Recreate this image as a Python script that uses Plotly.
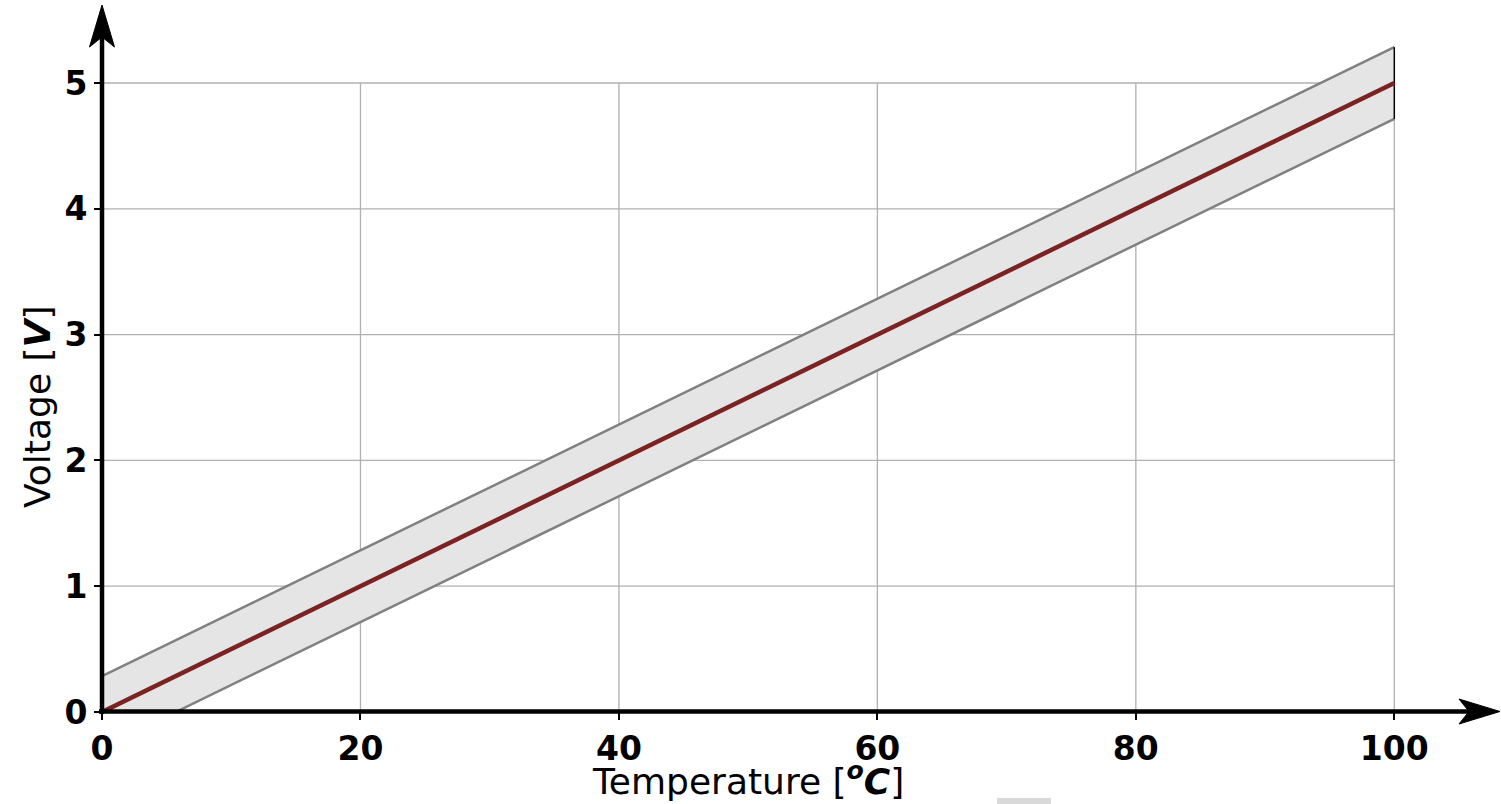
import plotly.graph_objects as go

# ---- data ----
temp = [0, 100]
volt = [0, 5]
band_upper_x = [0, 100]
band_upper_y = [0.285, 5.285]
band_lower_x = [5.7, 100]
band_lower_y = [0, 4.715]
x_ticks = [0, 20, 40, 60, 80, 100]
y_ticks = [0, 1, 2, 3, 4, 5]

# ---- layout geometry ----
W, H = 1501, 804
ML, MB, MR, MT = 102, 92, 43, 20
PW = W - ML - MR
PH = H - MB - MT
PPX = 12.923   # px per degree
PPY = 125.8    # px per volt
X0PX, Y0PX = ML, H - MB
xmax = PW / PPX
ymax = PH / PPY


def px2paper(px, py):
    return (px - X0PX) / PW, (Y0PX - py) / PH


def path(points):
    pts = [px2paper(*p) for p in points]
    s = "M %f,%f " % pts[0]
    for p in pts[1:]:
        s += "L %f,%f " % p
    return s + "Z"


fig = go.Figure()

# band fill
poly_x = [band_upper_x[0], band_upper_x[1], band_lower_x[1], band_lower_x[0], band_upper_x[0]]
poly_y = [band_upper_y[0], band_upper_y[1], band_lower_y[1], band_lower_y[0], band_lower_y[0]]
fig.add_trace(go.Scatter(x=poly_x, y=poly_y, fill="toself", fillcolor="#e5e5e5",
                         mode="none", hoverinfo="skip", showlegend=False))
# band edges
fig.add_trace(go.Scatter(x=band_upper_x, y=band_upper_y, mode="lines",
                         line=dict(color="#808080", width=2.5), showlegend=False))
fig.add_trace(go.Scatter(x=band_lower_x, y=band_lower_y, mode="lines",
                         line=dict(color="#808080", width=2.5), showlegend=False))
fig.add_trace(go.Scatter(x=[band_upper_x[1], band_lower_x[1]], y=[band_upper_y[1], band_lower_y[1]],
                         mode="lines", line=dict(color="black", width=1.5), showlegend=False))
fig.add_trace(go.Scatter(x=[band_upper_x[0], band_upper_x[0]], y=[band_lower_y[0], band_upper_y[0]],
                         mode="lines", line=dict(color="black", width=1.5), showlegend=False))
# main line
fig.add_trace(go.Scatter(x=temp, y=volt, mode="lines",
                         line=dict(color="#7b2222", width=4.5), showlegend=False))

shapes = []
# grid lines (limited to data region)
for xv in x_ticks[1:]:
    shapes.append(dict(type="line", xref="x", yref="y", x0=xv, x1=xv, y0=y_ticks[0], y1=y_ticks[-1],
                       line=dict(color="#b0b0b0", width=1.3), layer="below"))
for yv in y_ticks[1:]:
    shapes.append(dict(type="line", xref="x", yref="y", x0=x_ticks[0], x1=x_ticks[-1], y0=yv, y1=yv,
                       line=dict(color="#b0b0b0", width=1.3), layer="below"))

# axes with arrows
ax0 = px2paper(99, Y0PX - 0.5)
ax1 = px2paper(1475, Y0PX - 0.5)
shapes.append(dict(type="line", xref="paper", yref="paper", x0=ax0[0], y0=ax0[1], x1=ax1[0], y1=ax1[1],
                   line=dict(color="black", width=4.5), layer="above"))
shapes.append(dict(type="path", xref="paper", yref="paper",
                   path=path([(1500, 711.5), (1459, 699), (1469, 711.5), (1459, 724)]),
                   fillcolor="black", line=dict(color="black", width=1), layer="above"))
ay0 = px2paper(X0PX, 714)
ay1 = px2paper(X0PX, 30)
shapes.append(dict(type="line", xref="paper", yref="paper", x0=ay0[0], y0=ay0[1], x1=ay1[0], y1=ay1[1],
                   line=dict(color="black", width=4.5), layer="above"))
shapes.append(dict(type="path", xref="paper", yref="paper",
                   path=path([(X0PX, 5), (89.5, 47), (X0PX, 37), (114.5, 47)]),
                   fillcolor="black", line=dict(color="black", width=1), layer="above"))
# small gray rectangle at bottom
r0 = px2paper(997, 804)
r1 = px2paper(1051, 798)
shapes.append(dict(type="rect", xref="paper", yref="paper", x0=r0[0], y0=r0[1], x1=r1[0], y1=r1[1],
                   fillcolor="#d9d9d9", line=dict(width=0), layer="above"))

font = "DejaVu Sans"
tx = px2paper((X0PX + 1394) / 2, 779)
ty = px2paper(37, 407)
annotations = [
    dict(xref="paper", yref="paper", x=tx[0], y=tx[1], xanchor="center", yanchor="middle",
         text="Temperature [<b><i><sup>o</sup>C</i></b>]", showarrow=False,
         font=dict(family=font, size=36, color="black")),
    dict(xref="paper", yref="paper", x=ty[0], y=ty[1], xanchor="center", yanchor="middle",
         text="Voltage [<b><i>V</i></b>]", showarrow=False, textangle=-90,
         font=dict(family=font, size=36, color="black")),
]

fig.update_layout(
    width=W, height=H,
    margin=dict(l=ML, r=MR, t=MT, b=MB, autoexpand=False),
    paper_bgcolor="white", plot_bgcolor="white",
    shapes=shapes, annotations=annotations,
    font=dict(family=font, color="black"),
    xaxis=dict(range=[0, xmax], tickvals=x_ticks, ticktext=[str(v) for v in x_ticks],
               showgrid=False, zeroline=False, showline=False,
               ticks="outside", ticklen=7, tickwidth=1.5, tickcolor="black",
               tickfont=dict(family=font, size=33, color="black", weight="bold"),
               automargin=False, fixedrange=True),
    yaxis=dict(range=[0, ymax], tickvals=y_ticks, ticktext=[str(v) for v in y_ticks],
               showgrid=False, zeroline=False, showline=False,
               ticks="outside", ticklen=7, tickwidth=1.5, tickcolor="black",
               tickfont=dict(family=font, size=33, color="black", weight="bold"),
               automargin=False, fixedrange=True),
)

fig.write_html("out.html")
